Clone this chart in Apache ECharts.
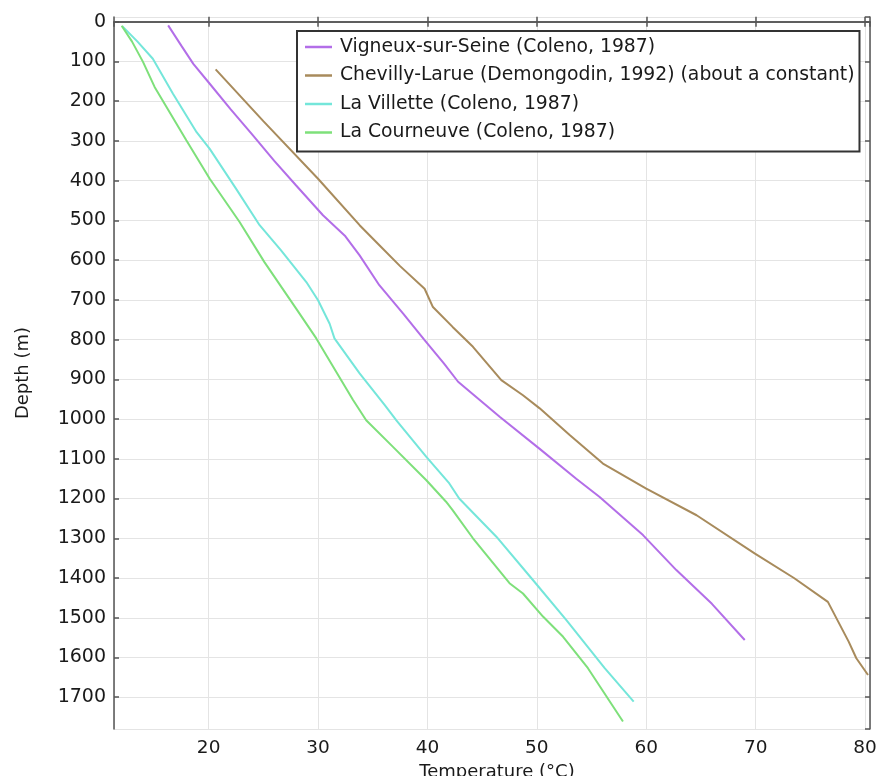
<!DOCTYPE html>
<html>
<head>
<meta charset="utf-8">
<script src="https://cdn.jsdelivr.net/npm/echarts@6/dist/echarts.min.js"></script>
<style>
html,body{margin:0;padding:0;background:#fff;}
#chart{width:877px;height:776px;}
</style>
</head>
<body>
<div id="chart"></div>
<script>
// ---- Data (temperature °C, depth m) ----
var seriesNames = [
  'Vigneux-sur-Seine (Coleno, 1987)',
  'Chevilly-Larue (Demongodin, 1992) (about a constant)',
  'La Villette (Coleno, 1987)',
  'La Courneuve (Coleno, 1987)'
];

var vigneuxTemp  = [16.3, 17.5, 18.6, 20.1, 22.0, 24.05, 26.0, 28.0, 30.45, 32.5, 33.8, 35.6, 37.8, 39.74, 41.5, 42.8, 46.6, 50.26, 53.6, 55.74, 59.7, 62.75, 66.0, 69.0];
var vigneuxDepth = [9, 60, 106, 156, 220, 286, 350, 412, 487, 540, 588, 663, 735, 801, 860, 906, 994, 1075, 1150, 1196, 1292, 1380, 1465, 1556];

var chevillyTemp  = [20.64, 25.0, 30.0, 33.8, 35.63, 37.5, 39.74, 40.5, 42.3, 44.16, 46.75, 48.73, 50.26, 53.0, 56.04, 60.0, 64.6, 69.9, 73.5, 76.6, 78.5, 79.2, 80.27];
var chevillyDepth = [120, 250, 395, 512, 563, 615, 672, 718, 768, 818, 902, 940, 973, 1040, 1112, 1175, 1242, 1338, 1400, 1460, 1560, 1602, 1644];

var villetteTemp  = [12.1, 13.5, 14.9, 16.74, 18.9, 20.1, 22.5, 24.66, 26.6, 28.93, 30.0, 31.06, 31.5, 33.8, 36.1, 37.16, 39.9, 42.0, 42.9, 46.3, 49.64, 52.7, 56.2, 58.85];
var villetteDepth = [11, 50, 93, 181, 278, 320, 420, 512, 575, 655, 701, 760, 797, 885, 965, 1003, 1095, 1162, 1200, 1296, 1405, 1506, 1627, 1711];

var courneuveTemp  = [12.05, 13.0, 14.0, 15.06, 17.96, 20.1, 22.83, 25.1, 28.0, 29.84, 33.2, 34.4, 36.85, 39.9, 41.7, 42.3, 44.16, 47.5, 48.73, 50.56, 52.4, 54.67, 57.87];
var courneuveDepth = [10, 50, 101, 164, 298, 395, 504, 605, 722, 797, 952, 1003, 1070, 1154, 1208, 1229, 1300, 1413, 1439, 1497, 1548, 1627, 1761];

var xRange = [11.35, 80.45];
var yRange = [-12, 1780];

function zip(a, b) { return a.map(function (v, i) { return [v, b[i]]; }); }

var colors = ['#b36ee8', '#a88b5c', '#74e6da', '#7ee07a'];
var allData = [
  zip(vigneuxTemp, vigneuxDepth),
  zip(chevillyTemp, chevillyDepth),
  zip(villetteTemp, villetteDepth),
  zip(courneuveTemp, courneuveDepth)
];

var FONT = 'DejaVu Sans';
var axisLineStyle = { color: '#555', width: 1.5 };

var chart = echarts.init(document.getElementById('chart'), null, { renderer: 'canvas' });

var option = {
  animation: false,
  backgroundColor: '#fff',
  textStyle: { fontFamily: FONT },
  grid: { left: 114, right: 7, top: 17, bottom: 47, containLabel: false, outerBoundsMode: 'none' },
  legend: {
    orient: 'vertical',
    left: 297,
    top: 31,
    data: seriesNames,
    icon: 'rect',
    itemWidth: 27,
    itemHeight: 2.5,
    itemGap: 8.5,
    padding: [6, 5, 9, 8],
    backgroundColor: '#fff',
    borderColor: '#333',
    borderWidth: 2,
    textStyle: { fontFamily: FONT, fontSize: 18.8, color: '#1a1a1a', lineHeight: 20, padding: [0, 0, 0, 3] }
  },
  xAxis: [{
    type: 'value',
    position: 'bottom',
    min: xRange[0], max: xRange[1],
    splitNumber: 7,
    name: 'Temperature (°C)',
    nameLocation: 'middle',
    nameGap: 29,
    nameTextStyle: { fontFamily: FONT, fontSize: 18, color: '#1a1a1a', padding: [0, 0, 0, 10] },
    axisLine: { show: true, lineStyle: axisLineStyle },
    axisTick: { show: true, inside: true, length: 5, lineStyle: axisLineStyle },
    axisLabel: {
      showMinLabel: false, showMaxLabel: false,
      fontFamily: FONT, fontSize: 18.5, color: '#1a1a1a', margin: 10,
      formatter: function (v) { return Math.abs(v % 10) < 1e-6 ? String(v) : ''; }
    },
    splitLine: { show: true, lineStyle: { color: '#e4e4e4', width: 1 } }
  }, {
    type: 'value',
    position: 'top',
    min: xRange[0], max: xRange[1],
    splitNumber: 7,
    axisLine: { show: true, lineStyle: axisLineStyle },
    axisTick: { show: true, inside: true, length: 5, lineStyle: axisLineStyle },
    axisLabel: { show: false },
    splitLine: { show: false }
  }],
  yAxis: [{
    type: 'value',
    position: 'left',
    inverse: true,
    min: yRange[0], max: yRange[1],
    splitNumber: 18,
    name: 'Depth (m)',
    nameLocation: 'middle',
    nameGap: 82,
    nameRotate: 90,
    nameTextStyle: { fontFamily: FONT, fontSize: 18, color: '#1a1a1a' },
    axisLine: { show: true, lineStyle: axisLineStyle },
    axisTick: { show: true, inside: true, length: 5, lineStyle: axisLineStyle },
    axisLabel: {
      showMinLabel: false, showMaxLabel: false,
      fontFamily: FONT, fontSize: 19, color: '#1a1a1a', margin: 8,
      formatter: function (v) { return Math.abs(v % 100) < 1e-6 ? String(v) : ''; }
    },
    splitLine: { show: true, lineStyle: { color: '#e4e4e4', width: 1 } }
  }, {
    type: 'value',
    position: 'right',
    inverse: true,
    min: yRange[0], max: yRange[1],
    splitNumber: 18,
    axisLine: { show: true, lineStyle: axisLineStyle },
    axisTick: { show: true, inside: true, length: 5, lineStyle: axisLineStyle },
    axisLabel: { show: false },
    splitLine: { show: false }
  }],
  series: seriesNames.map(function (name, i) {
    return {
      name: name,
      type: 'line',
      xAxisIndex: 0,
      yAxisIndex: 0,
      data: allData[i],
      showSymbol: false,
      symbol: 'none',
      color: colors[i],
      lineStyle: { color: colors[i], width: 2 },
      z: 3
    };
  })
};

chart.setOption(option);
</script>
</body>
</html>
